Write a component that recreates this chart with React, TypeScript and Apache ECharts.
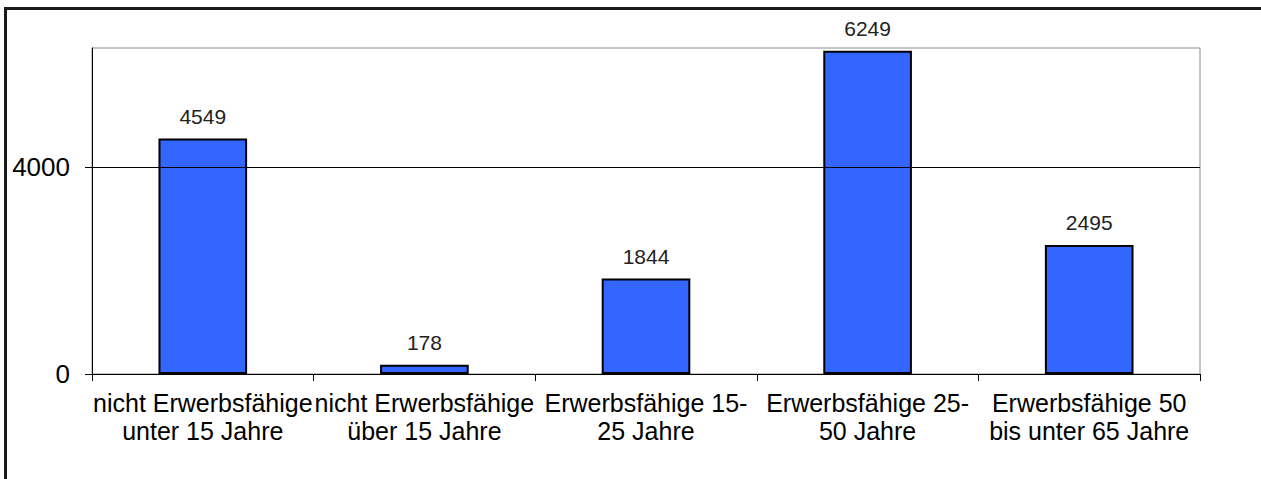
import React, { useEffect, useRef } from "react";
import * as echarts from "echarts";

const categories = [
  "nicht Erwerbsfähige\nunter 15 Jahre",
  "nicht Erwerbsfähige\nüber 15 Jahre",
  "Erwerbsfähige 15-\n25 Jahre",
  "Erwerbsfähige 25-\n50 Jahre",
  "Erwerbsfähige 50\nbis unter 65 Jahre",
];
const values = [4549, 178, 1844, 6249, 2495];
const yTicks = [0, 4000];
const yMax = 6300;

const FONT = "'Liberation Sans', Arial, Helvetica, sans-serif";

export default function App() {
  const ref = useRef<HTMLDivElement>(null);
  useEffect(() => {
    if (!ref.current) return;
    const chart = echarts.init(ref.current, null, { renderer: "svg" });
    chart.setOption({
      animation: false,
      backgroundColor: "#ffffff",
      grid: {
        left: 92,
        top: 48,
        right: 61,
        bottom: 105,
        show: true,
        borderColor: "#8c8c8c",
        borderWidth: 1,
        backgroundColor: "#ffffff",
      },
      graphic: [
        {
          type: "polyline",
          shape: { points: [[5.5, 600], [5.5, 8.5], [1300, 8.5]] },
          style: { stroke: "#1a1a1a", lineWidth: 3, fill: "none" },
          silent: true,
        },
      ],
      xAxis: {
        type: "category",
        data: categories,
        axisLine: { show: true, lineStyle: { color: "#000", width: 1 } },
        axisTick: { show: true, length: 7, lineStyle: { color: "#000" } },
        axisLabel: {
          interval: 0,
          margin: 15,
          color: "#000",
          fontFamily: FONT,
          fontSize: 25,
          lineHeight: 28,
        },
        splitLine: { show: false },
      },
      yAxis: {
        type: "value",
        min: 0,
        max: yMax,
        interval: 4000,
        axisLine: { show: true, lineStyle: { color: "#000", width: 1 } },
        axisTick: {
          show: true,
          length: 7,
          customValues: yTicks,
          lineStyle: { color: "#000" },
        },
        axisLabel: {
          margin: 22,
          color: "#000",
          fontFamily: FONT,
          fontSize: 26,
          customValues: yTicks,
          formatter: (v: number) => String(v),
        },
        splitLine: { show: false },
      },
      series: [
        {
          type: "bar",
          data: values,
          barWidth: "40%",
          itemStyle: { color: "#3366ff", borderColor: "#000", borderWidth: 2 },
          label: {
            show: true,
            position: "top",
            distance: 12,
            color: "#222",
            fontFamily: FONT,
            fontSize: 21,
          },
          markLine: {
            silent: true,
            symbol: ["none", "none"],
            label: { show: false },
            lineStyle: { color: "#000", width: 1, type: "solid" },
            data: [{ yAxis: yTicks[1] }],
          },
        },
      ],
    });
    return () => chart.dispose();
  }, []);
  return (
    <div
      ref={ref}
      style={{ position: "fixed", left: 0, top: 0, width: 1261, height: 479 }}
    />
  );
}
